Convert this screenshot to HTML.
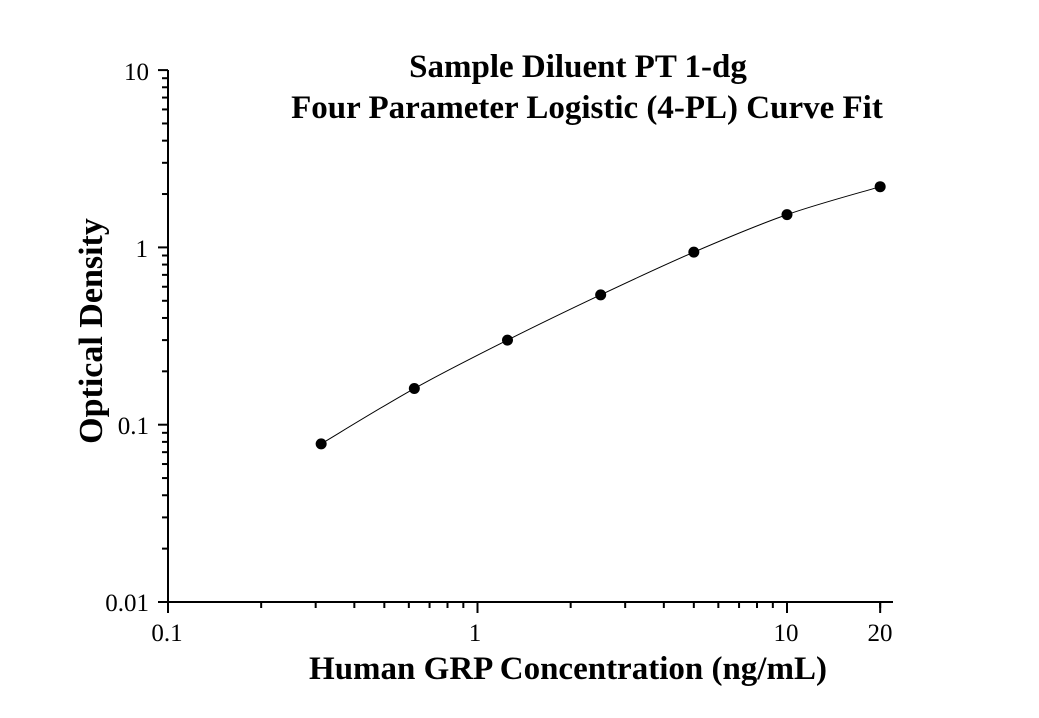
<!DOCTYPE html>
<html><head><meta charset="utf-8"><style>
html,body{margin:0;padding:0;background:#fff;}
svg{display:block;font-family:"Liberation Serif",serif;}
</style></head><body>
<svg id="s" width="1039" height="718" xmlns="http://www.w3.org/2000/svg">
<text x="578" y="77" font-size="33" font-weight="bold" text-anchor="middle">Sample Diluent PT 1-dg</text>
<text x="587" y="118" font-size="33" font-weight="bold" text-anchor="middle">Four Parameter Logistic (4-PL) Curve Fit</text>
<text x="568" y="679" font-size="33" font-weight="bold" text-anchor="middle">Human GRP Concentration (ng/mL)</text>
<text transform="translate(102,331) rotate(-90)" font-size="34" font-weight="bold" text-anchor="middle">Optical Density</text>
<g font-size="25" text-anchor="end">
<text x="149" y="80">10</text>
<text x="148" y="257">1</text>
<text x="149" y="434">0.1</text>
<text x="149" y="611">0.01</text>
</g>
<g font-size="25" text-anchor="middle">
<text x="167" y="641">0.1</text>
<text x="475" y="641">1</text>
<text x="786" y="641">10</text>
<text x="880" y="641">20</text>
</g>
<g id="ax" stroke="#000" stroke-width="2" fill="none">
<line x1="168" y1="70" x2="168" y2="603"/>
<line x1="158" y1="602" x2="893" y2="602"/>
</g>
<g id="pts"></g>
</svg>
<script>
var s=document.getElementById('ax'),ns="http://www.w3.org/2000/svg";
function X(v){return 168+309.5*Math.log10(v/0.1);}
function Y(v){return 602-177.3*Math.log10(v/0.01);}
function L(x1,y1,x2,y2,p){var l=document.createElementNS(ns,'line');l.setAttribute('x1',x1);l.setAttribute('y1',y1);l.setAttribute('x2',x2);l.setAttribute('y2',y2);(p||s).appendChild(l);}
[0.01,0.1,1].forEach(function(d){for(var k=1;k<10;k++){var y=Y(d*k);L(k==1?158:162,y,168,y);}});L(158,Y(10),168,Y(10));
[0.1,1,10].forEach(function(d){for(var k=1;k<10;k++){var v=d*k;if(v>20.5)break;var x=X(v);L(x,602,x,k==1?613:608);}});L(X(20),602,X(20),613);
var d=[[0.3125,0.078],[0.625,0.16],[1.25,0.30],[2.5,0.54],[5,0.94],[10,1.53],[20,2.2]];
var P=d.map(function(p){return [X(p[0]),Y(p[1])];});
var g=document.getElementById('pts'),path="M"+P[0][0]+","+P[0][1];
for(var i=0;i<P.length-1;i++){var p0=P[Math.max(0,i-1)],p1=P[i],p2=P[i+1],p3=P[Math.min(P.length-1,i+2)];
path+=" C"+(p1[0]+(p2[0]-p0[0])/6)+","+(p1[1]+(p2[1]-p0[1])/6)+" "+(p2[0]-(p3[0]-p1[0])/6)+","+(p2[1]-(p3[1]-p1[1])/6)+" "+p2[0]+","+p2[1];}
var pa=document.createElementNS(ns,'path');pa.setAttribute('d',path);pa.setAttribute('stroke','#000');pa.setAttribute('stroke-width','1');pa.setAttribute('fill','none');g.appendChild(pa);
P.forEach(function(p){var c=document.createElementNS(ns,'circle');c.setAttribute('cx',p[0]);c.setAttribute('cy',p[1]);c.setAttribute('r','5.5');c.setAttribute('fill','#000');g.appendChild(c);});
</script>
</body></html>
